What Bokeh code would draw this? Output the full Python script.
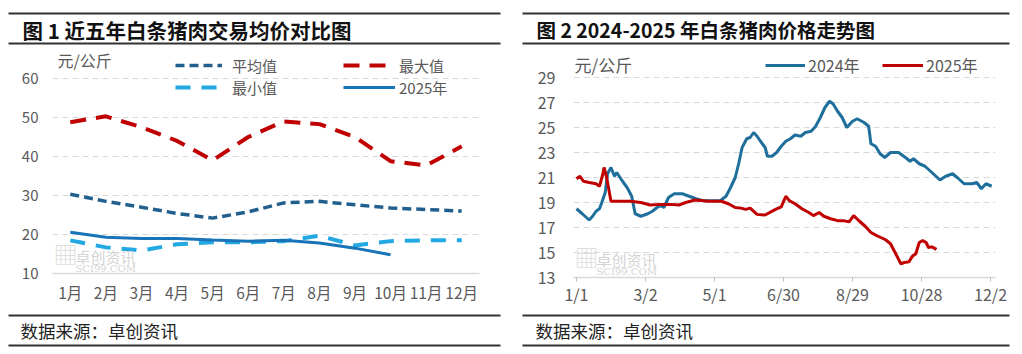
from bokeh.plotting import figure
from bokeh.models import (Range1d, FactorRange, FixedTicker, Legend, LegendItem, Label)
from bokeh.layouts import row, column
from bokeh.embed import file_html
from bokeh.resources import INLINE
from bokeh.core.properties import value

FONT = "Noto Sans CJK SC"

# ---------------- data: chart 1 ----------------
months = ["1月", "2月", "3月", "4月", "5月", "6月", "7月", "8月", "9月", "10月", "11月", "12月"]
avg_vals = [30.3, 28.5, 27.0, 25.4, 24.2, 25.8, 28.1, 28.5, 27.6, 26.8, 26.4, 26.0]
max_vals = [48.8, 50.3, 47.5, 44.0, 39.0, 45.0, 49.0, 48.3, 45.0, 38.8, 37.7, 42.6]
min_vals = [18.5, 16.7, 15.9, 17.5, 18.0, 18.0, 18.3, 19.7, 17.2, 18.3, 18.5, 18.5]
y2025_vals = [20.6, 19.3, 19.0, 19.0, 18.6, 18.3, 18.5, 17.8, 16.5, 14.8]
y1_ticks = [10, 20, 30, 40, 50, 60]

# ---------------- data: chart 2 (day offset from 1/1, price) ----------------
day24 = [0, 5, 11, 14, 17, 20, 22, 25, 27, 30, 33, 35, 40, 44, 48, 51, 56, 62, 66, 70,
         73, 76, 80, 85, 92, 98, 104, 110, 118, 125, 130, 134, 138, 141, 144, 148, 151,
         154, 157, 160, 164, 166, 170, 174, 178, 182, 186, 190, 195, 199, 204, 208, 212,
         216, 220, 223, 227, 231, 235, 240, 244, 250, 254, 256, 260, 264, 268, 273, 280,
         286, 290, 293, 298, 303, 309, 316, 321, 327, 331, 337, 344, 348, 352, 356, 361]
val24 = [18.5, 18.1, 17.6, 17.9, 18.3, 18.5, 19.0, 19.8, 21.3, 21.8, 21.1, 21.4, 20.7,
         20.2, 19.5, 18.1, 17.9, 18.1, 18.3, 18.6, 18.75, 18.6, 19.4, 19.7, 19.7, 19.5,
         19.3, 19.15, 19.15, 19.15, 19.5, 20.2, 21.0, 22.1, 23.4, 24.1, 24.2, 24.6, 24.3,
         23.9, 23.4, 22.7, 22.7, 23.0, 23.5, 23.9, 24.1, 24.4, 24.3, 24.6, 24.7, 25.1,
         25.8, 26.6, 27.1, 26.9, 26.3, 25.8, 25.0, 25.5, 25.7, 25.4, 25.1, 23.7, 23.5,
         22.9, 22.6, 23.0, 23.0, 22.6, 22.3, 22.5, 22.1, 21.9, 21.4, 20.8, 21.1, 21.3,
         21.0, 20.5, 20.5, 20.6, 20.1, 20.5, 20.3]
day25 = [0, 3, 6, 11, 17, 20, 23, 24, 26, 28, 30, 38, 47, 56, 64, 73, 82, 89, 95, 103,
         115, 126, 132, 138, 143, 147, 151, 157, 164, 173, 178, 182, 185, 190, 196, 202,
         206, 211, 215, 221, 227, 232, 237, 241, 246, 251, 256, 261, 267, 269, 273, 277,
         282, 285, 289, 292, 295, 298, 301, 304, 306, 309, 313]
val25 = [20.9, 21.1, 20.7, 20.6, 20.5, 20.3, 21.3, 21.8, 21.1, 20.1, 19.1, 19.1, 19.1,
         19.0, 18.8, 18.85, 18.85, 18.8, 19.0, 19.2, 19.1, 19.1, 18.9, 18.6, 18.55, 18.45,
         18.55, 18.05, 18.0, 18.45, 18.65, 19.5, 19.15, 18.9, 18.5, 18.2, 17.95, 18.2,
         17.9, 17.7, 17.55, 17.55, 17.45, 17.95, 17.5, 17.1, 16.6, 16.35, 16.1, 16.0,
         15.7, 15.0, 14.1, 14.2, 14.25, 14.7, 14.9, 15.8, 15.95, 15.8, 15.4, 15.45, 15.25]
tick_days = [0, 60, 120, 180, 240, 300, 360]
tick_labels = ["1/1", "3/2", "5/1", "6/30", "8/29", "10/28", "12/2"]
y2_ticks = [13, 15, 17, 19, 21, 23, 25, 27, 29]

titles = ["图 1 近五年白条猪肉交易均价对比图", "图 2 2024-2025 年白条猪肉价格走势图"]
source_text = "数据来源：卓创资讯"
unit_text = "元/公斤"
wm_cn = "卓创资讯"
wm_en = "SCI99.COM"

W = 511
HEAD_H = 47


def no_align(f):
    try:
        f.frame_align = False
    except Exception:
        pass


def deco_fig(h):
    f = figure(width=W, height=h, x_range=Range1d(0, W), y_range=Range1d(h, 0),
               toolbar_location=None, output_backend="svg", min_border=0,
               min_border_left=0, min_border_right=0, min_border_top=0, min_border_bottom=0,
               x_axis_location=None, y_axis_location=None, outline_line_color=None,
               border_fill_color="white", background_fill_color="white")
    f.grid.visible = False
    no_align(f)
    return f


def header(title, x0, x1, tx, fsize):
    f = deco_fig(HEAD_H)
    f.segment(x0=[x0, x0], y0=[13, 43], x1=[x1, x1], y1=[13, 43],
              line_color="#333333", line_width=2)
    f.text(x=[tx], y=[29], text=[title], text_font=value(FONT), text_font_style="bold",
           text_font_size=fsize, text_baseline="middle", text_color="#111111")
    return f


def footer(h, ya, yb, x0, x1, tx):
    f = deco_fig(h)
    f.segment(x0=[x0, x0], y0=[ya, yb], x1=[x1, x1], y1=[ya, yb],
              line_color="#333333", line_width=2)
    f.text(x=[tx], y=[(ya + yb) / 2], text=[source_text], text_font=value(FONT),
           text_font_size="17.5px", text_baseline="middle", text_color="#222222")
    return f


def style_main(p, yticks, ysize):
    p.outline_line_color = None
    p.xgrid.visible = False
    p.ygrid.grid_line_color = "#d9d9d9"
    p.ygrid.grid_line_dash = "6 4"
    p.ygrid.grid_line_width = 1
    p.yaxis.ticker = FixedTicker(ticks=yticks)
    p.yaxis.axis_line_color = None
    p.yaxis.major_tick_line_color = None
    p.yaxis.major_tick_out = 0
    p.yaxis.minor_tick_line_color = None
    p.yaxis.major_label_text_font = FONT
    p.yaxis.major_label_text_font_size = ysize
    p.yaxis.major_label_text_color = "#595959"
    p.xaxis.axis_line_color = "#d9d9d9"
    p.xaxis.axis_line_width = 1.5
    p.xaxis.minor_tick_line_color = None
    p.xaxis.minor_tick_out = 0
    p.xaxis.major_label_text_font = FONT
    p.xaxis.major_label_text_color = "#595959"
    no_align(p)


def watermark(p, dx, ycn):
    p.add_layout(Label(x=dx, y=ycn - 14, x_units="screen", y_units="screen", text="▦",
                       text_font=FONT, text_font_size="24px", text_color="#dedede",
                       text_baseline="bottom"))
    p.add_layout(Label(x=dx + 22, y=ycn, x_units="screen", y_units="screen", text=wm_cn,
                       text_font=FONT, text_font_size="15px", text_color="#d4d4d4",
                       text_baseline="middle"))
    p.add_layout(Label(x=dx + 22, y=ycn - 12, x_units="screen", y_units="screen",
                       text=wm_en, text_font="DejaVu Serif", text_font_size="10px",
                       text_color="#d4d4d4", text_baseline="middle"))


def one_legend(label, renderer, vx, vy, gw, standoff, fsize="15px"):
    return Legend(items=[LegendItem(label=label, renderers=[renderer])], location=(vx, vy),
                  orientation="vertical", padding=0, margin=0, spacing=0, glyph_width=gw,
                  glyph_height=18, label_height=18, label_standoff=standoff,
                  label_text_font=FONT, label_text_font_size=fsize,
                  label_text_color="#595959", border_line_color=None,
                  background_fill_alpha=0)


# ---------------- chart 1 ----------------
MAIN_H1 = 259
p1 = figure(width=W, height=MAIN_H1, x_range=FactorRange(factors=months),
            y_range=Range1d(10, 10 + 223 / 3.9), toolbar_location=None,
            output_backend="svg", min_border_left=52, min_border_right=32,
            min_border_top=3, min_border_bottom=33, border_fill_color="white")
style_main(p1, y1_ticks, "15px")
p1.xaxis.major_tick_line_color = None
p1.xaxis.major_tick_out = 0
p1.xaxis.major_tick_in = 0
p1.xaxis.major_label_text_font_size = "15.5px"
p1.xaxis.major_label_standoff = 7
p1.yaxis.major_label_standoff = 14

r_avg = p1.line(months, avg_vals, line_color="#215f8e", line_width=3.5, line_dash="9 5")
r_max = p1.line(months, max_vals, line_color="#c00000", line_width=4, line_dash="16 10")
r_min = p1.line(months, min_vals, line_color="#22a8e2", line_width=4, line_dash="15 11")
r_25 = p1.line(months[:len(y2025_vals)], y2025_vals, line_color="#1874b8", line_width=3)

p1.add_layout(one_legend("平均值", r_avg, 123, 197.2, 47, 10))
p1.add_layout(one_legend("最小值", r_min, 123, 175.2, 47, 10))
p1.add_layout(one_legend("最大值", r_max, 291, 197.2, 52, 4))
p1.add_layout(one_legend("2025年", r_25, 291, 175.2, 52, 4))
p1.add_layout(Label(x=5, y=214, x_units="screen", y_units="screen", text=unit_text,
                    text_font=FONT, text_font_size="16px", text_color="#595959",
                    text_baseline="middle"))
watermark(p1, 1, 17)

# ---------------- chart 2 ----------------
MAIN_H2 = 262
p2 = figure(width=W, height=MAIN_H2, x_range=Range1d(-2.6, 364.3),
            y_range=Range1d(13, 13 + 227 / 12.5), toolbar_location=None,
            output_backend="svg", min_border_left=62, min_border_right=27,
            min_border_top=3, min_border_bottom=32, border_fill_color="white")
style_main(p2, y2_ticks, "16px")
p2.xaxis.ticker = FixedTicker(ticks=tick_days)
p2.xaxis.major_label_overrides = {d: t for d, t in zip(tick_days, tick_labels)}
p2.xaxis.major_tick_line_color = "#bfbfbf"
p2.xaxis.major_tick_out = 4
p2.xaxis.major_tick_in = 0
p2.xaxis.major_label_text_font_size = "16px"
p2.xaxis.major_label_standoff = 0
p2.yaxis.major_label_standoff = 18

r24 = p2.line(day24, val24, line_color="#1f6f9c", line_width=3)
r25 = p2.line(day25, val25, line_color="#c00000", line_width=3)

p2.add_layout(one_legend("2024年", r24, 192, 200.5, 40, 3, "16px"))
p2.add_layout(one_legend("2025年", r25, 309, 200.5, 41, 3, "16px"))
p2.add_layout(Label(x=1, y=213, x_units="screen", y_units="screen", text=unit_text,
                    text_font=FONT, text_font_size="17px", text_color="#595959",
                    text_baseline="middle"))
watermark(p2, 1, 18)

# ---------------- layout ----------------
h1 = header(titles[0], 8, 500, 22, "20.5px")
h2 = header(titles[1], 11, 498, 25, "19.5px")
F1 = 354 - HEAD_H - MAIN_H1
F2 = 354 - HEAD_H - MAIN_H2
f1 = footer(F1, 315 - (HEAD_H + MAIN_H1), 345 - (HEAD_H + MAIN_H1), 8, 500, 20)
f2 = footer(F2, 315 - (HEAD_H + MAIN_H2), 345 - (HEAD_H + MAIN_H2), 11, 498, 24)

layout = row(column(h1, p1, f1, spacing=0), column(h2, p2, f2, spacing=0), spacing=0)

open("out.html", "w").write(file_html(layout, INLINE))
